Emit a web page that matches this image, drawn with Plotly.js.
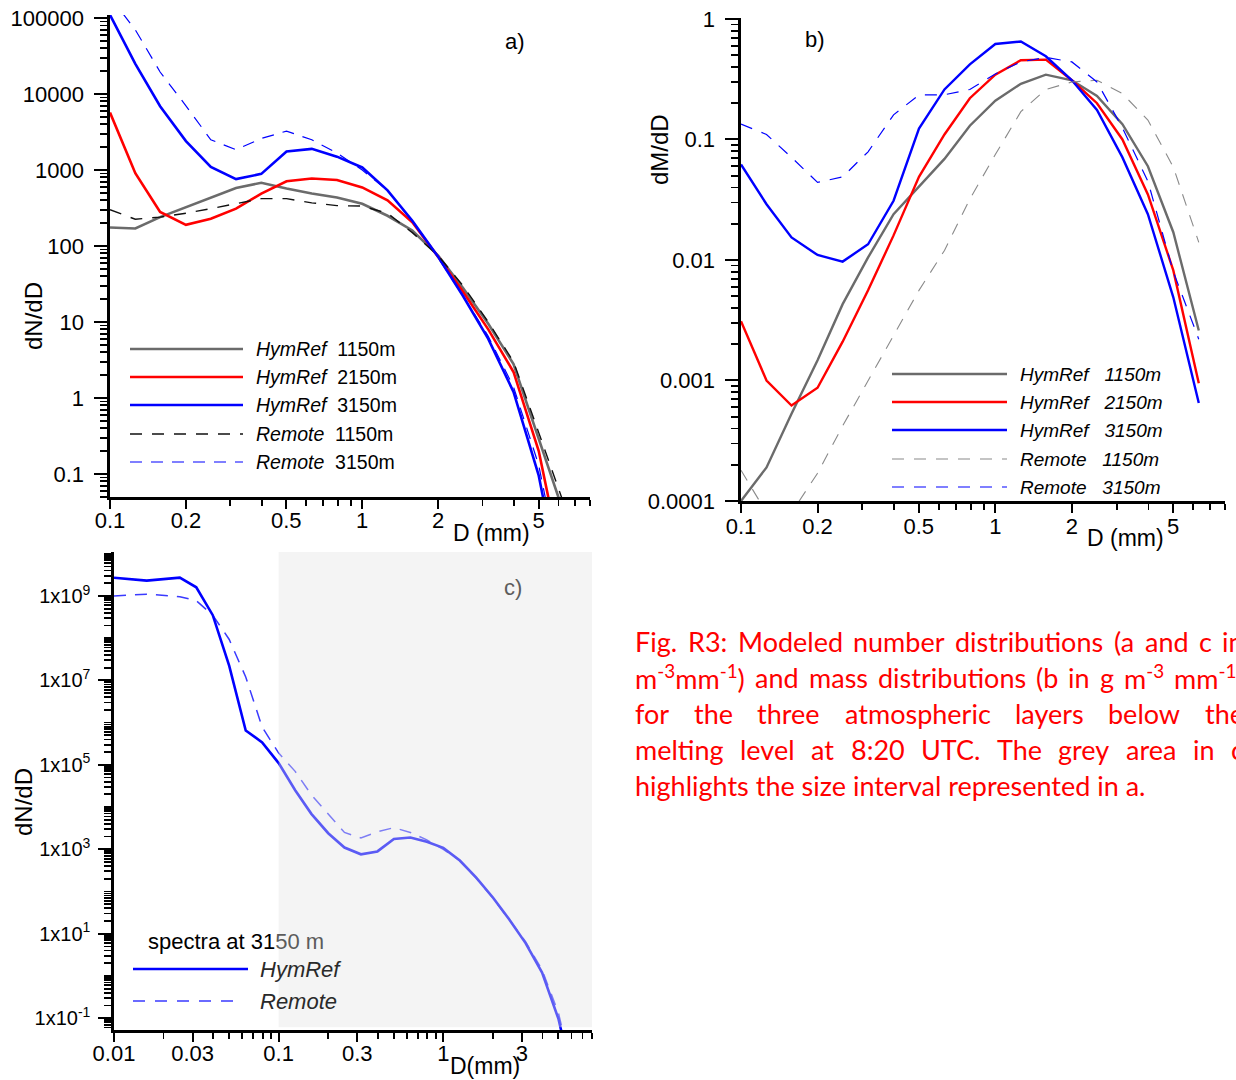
<!DOCTYPE html>
<html><head><meta charset="utf-8">
<script src="https://cdn.plot.ly/plotly-3.0.1.min.js"></script>
<style>html,body{margin:0;padding:0;background:#fff}#chart{width:1236px;height:1080px}</style>
</head><body><div id="chart"></div>
<script>
// ---------- DATA ----------
// size bins (mm) used in panels a and b
const D = [0.1,0.126,0.158,0.2,0.251,0.316,0.398,0.501,0.631,0.794,1.0,1.26,1.58,2.0,2.51,3.16,3.98,5.01,6.31];
// panel a: number distributions dN/dD
const aHym1150 = [175,170,240,325,440,580,680,570,490,435,360,250,160,75,28,9.5,2.8,0.3,0.03];
const aHym2150 = [5700,910,280,190,228,310,490,710,775,740,590,400,205,72,25,8,2.2,0.2,0.005];
const aHym3150 = [110000,25000,6900,2400,1100,760,890,1750,1900,1500,1080,540,215,72,22,6,1.2,0.095,0.002];
const aRem1150 = [300,225,240,270,310,360,420,420,370,340,335,270,150,75,30,10,3.0,0.35,0.04];
const aRem3150 = [190000,70000,19500,7000,2500,1850,2600,3250,2500,1670,1000,540,210,70,22,6.5,1.4,0.13,0.003];
// panel b: mass distributions dM/dD
const bHym1150 = [0.0001,0.00019,0.00053,0.00147,0.0043,0.0105,0.024,0.041,0.069,0.13,0.21,0.29,0.345,0.31,0.23,0.134,0.06,0.017,0.0026];
const bHym2150 = [0.0031,0.001,0.00062,0.00087,0.0021,0.0056,0.016,0.049,0.11,0.22,0.345,0.455,0.46,0.31,0.2,0.1,0.035,0.0082,0.00095];
const bHym3150 = [0.062,0.029,0.0154,0.011,0.0097,0.0135,0.031,0.123,0.26,0.42,0.62,0.65,0.49,0.31,0.176,0.071,0.024,0.0049,0.00065];
const bRem1150 = [0.00018,0.00008,0.00008,0.00017,0.00042,0.001,0.0024,0.0056,0.012,0.032,0.075,0.17,0.26,0.30,0.31,0.24,0.145,0.059,0.014];
const bRem3150 = [0.134,0.11,0.071,0.044,0.049,0.079,0.16,0.234,0.235,0.26,0.35,0.44,0.48,0.44,0.30,0.125,0.045,0.008,0.0022];
// panel c: small-size part of the 3150 m spectra (continues with aHym3150 / aRem3150)
const cDsmall = [0.01,0.0158,0.0251,0.0316,0.0398,0.0501,0.0631,0.0794];
const cHymSmall = [2.7e9,2.3e9,2.7e9,1.6e9,3.5e8,2.2e7,6.5e5,3.4e5];
const cRemSmall = [1.0e9,1.1e9,9.6e8,7.7e8,3.5e8,9.3e7,1.2e7,7.8e5];
// tick labels
const aXticks = [0.1,0.2,0.5,1,2,5];
const aXtext = ['0.1','0.2','0.5','1','2','5'];
const aYticks = [0.1,1,10,100,1000,10000,100000];
const aYtext = ['0.1','1','10','100','1000','10000','100000'];
const bYticks = [0.0001,0.001,0.01,0.1,1];
const bYtext = ['0.0001','0.001','0.01','0.1','1'];
const cXticks = [0.01,0.03,0.1,0.3,1,3];
const cXtext = ['0.01','0.03','0.1','0.3','1','3'];
const cYlabelExp = [-1,1,3,5,7,9];
// legend names
const srcNames = ['HymRef','HymRef','HymRef','Remote','Remote'];
const heights = ['1150m','2150m','3150m','1150m','3150m'];
// caption
const capLines = [
  'Fig. R3: Modeled number distributions (a and c in',
  'm<sup>-3</sup>mm<sup>-1</sup>) and mass distributions (b in g m<sup>-3</sup> mm<sup>-1</sup>)',
  'for the three atmospheric layers below the',
  'melting level at 8:20 UTC. The grey area in c',
  'highlights the size interval represented in a.'
];

// ---------- STYLE / LAYOUT ----------
const W = 1236, H = 1080;
const px = x => x / W, py = y => 1 - y / H;
const FONT = 'Liberation Sans, Arial, sans-serif';
const GRAY = '#6b6b6b', RED = '#ff0000', BLUE = '#0000ff';
const styleA = [
  {color: GRAY, width: 2.6, dash: 'solid'},
  {color: RED, width: 2.6, dash: 'solid'},
  {color: BLUE, width: 2.6, dash: 'solid'},
  {color: '#111111', width: 1.4, dash: '12px,10px'},
  {color: BLUE, width: 1.2, dash: '12px,9px'}
];
const styleB = [
  {color: GRAY, width: 2.4, dash: 'solid'},
  {color: RED, width: 2.4, dash: 'solid'},
  {color: BLUE, width: 2.4, dash: 'solid'},
  {color: '#8a8a8a', width: 1.1, dash: '12px,10px'},
  {color: BLUE, width: 1.2, dash: '12px,10px'}
];
const aSeries = [aHym1150, aHym2150, aHym3150, aRem1150, aRem3150];
const bSeries = [bHym1150, bHym2150, bHym3150, bRem1150, bRem3150];

const traces = [];
aSeries.forEach((s, i) => traces.push({x: D, y: s, xaxis: 'x', yaxis: 'y', type: 'scatter', mode: 'lines',
  name: srcNames[i] + ' ' + heights[i], line: styleA[i]}));
bSeries.forEach((s, i) => traces.push({x: D, y: s, xaxis: 'x2', yaxis: 'y2', type: 'scatter', mode: 'lines',
  name: srcNames[i] + ' ' + heights[i], line: styleB[i]}));
const cD = cDsmall.concat(D);
traces.push({x: cD, y: cRemSmall.concat(aRem3150), xaxis: 'x3', yaxis: 'y3', type: 'scatter', mode: 'lines',
  name: 'Remote', line: {color: '#3a3aff', width: 1.5, dash: '12px,9px'}});
traces.push({x: cD, y: cHymSmall.concat(aHym3150), xaxis: 'x3', yaxis: 'y3', type: 'scatter', mode: 'lines',
  name: 'HymRef', line: {color: BLUE, width: 2.6}});

const p10 = e => parseFloat(Math.pow(10, e).toPrecision(6));
function minorVals(loExp, hiExp, majors) {
  const out = [];
  for (let e = loExp; e <= hiExp; e++) for (let m = 1; m <= 9; m++) {
    const v = parseFloat((m * Math.pow(10, e)).toPrecision(6));
    if (!majors.some(t => Math.abs(t - v) / v < 1e-6)) out.push(v);
  }
  return out;
}
const decades = (a, b) => { const r = []; for (let e = a; e <= b; e++) r.push(p10(e)); return r; };
function axisBase(extra) {
  return Object.assign({
    type: 'log', showline: true, linewidth: 2.6, linecolor: '#000', showgrid: false, zeroline: false,
    ticks: 'outside', tickwidth: 2, tickcolor: '#000', tickmode: 'array',
    tickfont: {family: FONT, size: 22, color: '#000'}, fixedrange: true
  }, extra);
}
const minorX = (lo, hi, majors) => ({tickmode: 'array', tickvals: minorVals(lo, hi, majors), ticks: 'outside', ticklen: 6, tickwidth: 1.8, tickcolor: '#000'});
const minorY = (vals) => ({tickmode: 'array', tickvals: vals, ticks: 'outside', ticklen: 7, tickwidth: 1.8, tickcolor: '#000'});

const cYmajor = cYlabelExp.map(p10);
const layout = {
  width: W, height: H, margin: {l: 0, r: 0, t: 0, b: 0}, paper_bgcolor: '#fff', plot_bgcolor: 'rgba(0,0,0,0)',
  showlegend: false, hovermode: false,
  xaxis: axisBase({domain: [px(110), px(590)], anchor: 'y', range: [-1, Math.log10(8)], ticklen: 9, ticklabelstandoff: -7,
    tickvals: aXticks, ticktext: aXtext, minor: minorX(-1, 0, aXticks)}),
  yaxis: axisBase({domain: [py(497), py(15)], anchor: 'x', range: [-1.303, 5.04], ticklen: 13, ticklabelstandoff: 6,
    tickvals: aYticks, ticktext: aYtext, minor: minorY(minorVals(-2, 5, decades(-2, 5)))}),
  xaxis2: axisBase({domain: [px(741), px(1225)], anchor: 'y2', range: [-1, Math.log10(8)], ticklen: 9, ticklabelstandoff: -5,
    tickvals: aXticks, ticktext: aXtext, minor: minorX(-1, 0, aXticks)}),
  yaxis2: axisBase({domain: [py(501), py(18)], anchor: 'x2', range: [-4, 0.008], ticklen: 13, ticklabelstandoff: 6,
    tickvals: bYticks, ticktext: bYtext, minor: minorY(minorVals(-5, 0, decades(-5, 0)))}),
  xaxis3: axisBase({domain: [px(114), px(592)], anchor: 'y3', range: [-2, Math.log10(8)], ticklen: 9, ticklabelstandoff: -7,
    tickvals: cXticks, ticktext: cXtext, minor: minorX(-2, 0, cXticks)}),
  yaxis3: axisBase({domain: [py(1030), py(552)], anchor: 'x3', range: [-1.28, 10.04], ticklen: 13, ticklabelstandoff: 4,
    tickvals: cYmajor, ticktext: cYlabelExp.map(e => '1x10<sup>' + e + '</sup>'),
    tickfont: {family: FONT, size: 20, color: '#000'},
    minor: minorY(minorVals(-2, 10, cYmajor))}),
  shapes: [],
  annotations: []
};

// grey highlighted size interval in panel c (0.1 mm to axis end)
layout.shapes.push({type: 'rect', xref: 'x3', yref: 'y3 domain', x0: 0.1, x1: 8, y0: 0.006, y1: 1,
  fillcolor: 'rgba(227,227,227,0.4)', line: {width: 0}, layer: 'above'});

const ann = (o) => layout.annotations.push(Object.assign({xref: 'paper', yref: 'paper', showarrow: false,
  xanchor: 'center', yanchor: 'middle', font: {family: FONT, size: 22, color: '#000'}}, o));

// axis titles / panel labels
ann({x: px(34), y: py(316), text: 'dN/dD', textangle: -90, font: {family: FONT, size: 24, color: '#000'}});
ann({x: px(660), y: py(150), text: 'dM/dD', textangle: -90, font: {family: FONT, size: 24, color: '#000'}});
ann({x: px(23), y: py(802), text: 'dN/dD', textangle: -90, font: {family: FONT, size: 24, color: '#000'}});
ann({x: px(491), y: py(533), text: 'D (mm)', font: {family: FONT, size: 23, color: '#000'}});
ann({x: px(1125), y: py(538), text: 'D (mm)', font: {family: FONT, size: 23, color: '#000'}});
ann({x: px(485), y: py(1066), text: 'D(mm)', font: {family: FONT, size: 23, color: '#000'}});
ann({x: px(515), y: py(41), text: 'a)'});
ann({x: px(815), y: py(40), text: 'b)'});
ann({x: px(513), y: py(587), text: 'c)', font: {family: FONT, size: 22, color: '#5c5c5c'}});

// legend a
const legA = {rows: [349, 377, 405, 434, 462], x0: 130, x1: 243, tx: 254};
styleA.forEach((st, i) => {
  layout.shapes.push({type: 'line', xref: 'paper', yref: 'paper', x0: px(legA.x0), x1: px(legA.x1),
    y0: py(legA.rows[i]), y1: py(legA.rows[i]), line: {color: st.color, width: st.width, dash: st.dash}});
  ann({x: px(legA.tx), y: py(legA.rows[i]), xanchor: 'left', text: '<i>' + srcNames[i] + '</i>\u00a0\u00a0' + heights[i],
    font: {family: FONT, size: 19.5, color: '#000'}});
});
// legend b
const legB = {rows: [374, 402, 430, 459, 487], x0: 892, x1: 1007, tx: 1018};
styleB.forEach((st, i) => {
  layout.shapes.push({type: 'line', xref: 'paper', yref: 'paper', x0: px(legB.x0), x1: px(legB.x1),
    y0: py(legB.rows[i]), y1: py(legB.rows[i]), line: {color: st.color, width: st.width, dash: st.dash}});
  ann({x: px(legB.tx), y: py(legB.rows[i]), xanchor: 'left', text: '<i>' + srcNames[i] + '\u00a0\u00a0\u00a0' + heights[i] + '</i>',
    font: {family: FONT, size: 19, color: '#000'}});
});
// legend c
ann({x: px(146), y: py(941), xanchor: 'left', text: 'spectra at 31<span style="color:#5c5c5c">50 m</span>',
  font: {family: FONT, size: 22, color: '#000'}});
layout.shapes.push({type: 'line', xref: 'paper', yref: 'paper', x0: px(133), x1: px(248), y0: py(969), y1: py(969),
  line: {color: BLUE, width: 2.6}});
layout.shapes.push({type: 'line', xref: 'paper', yref: 'paper', x0: px(133), x1: px(243), y0: py(1001), y1: py(1001),
  line: {color: '#3a3aff', width: 1.5, dash: '12px,10px'}});
ann({x: px(258), y: py(969), xanchor: 'left', text: '<i>HymRef</i>', font: {family: FONT, size: 22, color: '#2a2a2a'}});
ann({x: px(258), y: py(1001), xanchor: 'left', text: '<i>Remote</i>', font: {family: FONT, size: 22, color: '#2a2a2a'}});

// caption: justified red text block (words laid out with measured widths)
const CAP_SIZE = 27, CAP_FAMILY = 'Lato', CAP_L = 634, CAP_R = 1243;
const capY = [641, 677, 713, 749, 785];
const ctx = document.createElement('canvas').getContext('2d');
function measure(word) {
  let w = 0;
  word.split(/(<sup>.*?<\/sup>)/).forEach(part => {
    if (!part) return;
    if (part.startsWith('<sup>')) { ctx.font = (CAP_SIZE * 0.7) + 'px ' + CAP_FAMILY; w += ctx.measureText(part.replace(/<\/?sup>/g, '')).width; }
    else { ctx.font = CAP_SIZE + 'px ' + CAP_FAMILY; w += ctx.measureText(part).width; }
  });
  return w;
}
const capFont = {family: CAP_FAMILY + ', sans-serif', size: CAP_SIZE, color: '#ff0000'};
capLines.forEach((line, li) => {
  if (li === capLines.length - 1) {
    ann({x: px(CAP_L), y: py(capY[li]), xanchor: 'left', text: line, font: capFont, borderpad: 0});
    return;
  }
  const words = line.split(' ');
  const widths = words.map(measure);
  const gap = Math.max(6, (CAP_R - CAP_L - widths.reduce((a, b) => a + b, 0)) / (words.length - 1));
  let x = CAP_L;
  words.forEach((w, i) => {
    ann({x: px(x), y: py(capY[li]), xanchor: 'left', text: w, font: capFont, borderpad: 0});
    x += widths[i] + gap;
  });
});

Plotly.newPlot('chart', traces, layout, {staticPlot: true, displayModeBar: false});
</script>
</body></html>
